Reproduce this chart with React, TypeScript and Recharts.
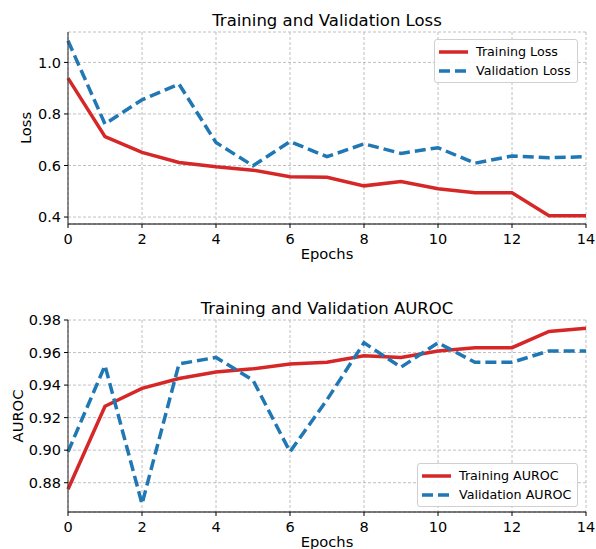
import { LineChart, Line, XAxis, YAxis, CartesianGrid, Legend } from 'recharts';

const epochs = [0, 1, 2, 3, 4, 5, 6, 7, 8, 9, 10, 11, 12, 13, 14];
const trainLoss = [0.939, 0.712, 0.651, 0.612, 0.595, 0.582, 0.556, 0.554, 0.521, 0.538, 0.51, 0.494, 0.494, 0.405, 0.405];
const valLoss = [1.084, 0.761, 0.855, 0.916, 0.689, 0.599, 0.693, 0.634, 0.684, 0.647, 0.669, 0.609, 0.637, 0.63, 0.634];
const trainAuroc = [0.876, 0.927, 0.938, 0.944, 0.948, 0.95, 0.953, 0.954, 0.958, 0.957, 0.961, 0.963, 0.963, 0.973, 0.975];
const valAuroc = [0.899, 0.952, 0.867, 0.953, 0.957, 0.943, 0.899, 0.931, 0.966, 0.951, 0.966, 0.954, 0.954, 0.961, 0.961];

const xTicks = [0, 2, 4, 6, 8, 10, 12, 14];
const lossTicks = [0.4, 0.6, 0.8, 1.0];
const aurocTicks = [0.88, 0.9, 0.92, 0.94, 0.96, 0.98];

const RED = '#d62728';
const BLUE = '#1f77b4';
const FONT = "'DejaVu Sans', sans-serif";

const lossData = epochs.map((e, i) => ({ epoch: e, train: trainLoss[i], val: valLoss[i] }));
const aurocData = epochs.map((e, i) => ({ epoch: e, train: trainAuroc[i], val: valAuroc[i] }));

// legend drawn inside the axes, like matplotlib's boxed legend
const BoxLegend = ({ payload }: any) => (
  <div
    style={{
      background: 'rgba(255,255,255,0.85)',
      border: '1px solid #d0d0d0',
      borderRadius: 3,
      padding: '2px 6px 2px 4px',
      fontFamily: FONT,
      fontSize: 12.7,
      color: '#000',
    }}
  >
    {payload.map((entry: any, i: number) => (
      <div key={i} style={{ display: 'flex', alignItems: 'center', height: 19 }}>
        <svg width={29} height={8} style={{ marginRight: 8 }}>
          <line
            x1={0}
            y1={4}
            x2={29}
            y2={4}
            stroke={entry.color}
            strokeWidth={3.5}
            strokeDasharray={i === 1 ? '11 5' : undefined}
          />
        </svg>
        <span>{entry.value}</span>
      </div>
    ))}
  </div>
);

const xLabel = ({ viewBox }: any) => (
  <text x={viewBox.x + viewBox.width / 2} y={viewBox.y + 35} textAnchor="middle" fontSize={14.7} fontFamily={FONT} fill="#000">
    Epochs
  </text>
);

const yLabel = (text: string, x: number) => ({ viewBox }: any) => {
  const cy = viewBox.y + viewBox.height / 2;
  return (
    <text x={x} y={cy} transform={`rotate(-90, ${x}, ${cy})`} textAnchor="middle" fontSize={14.7} fontFamily={FONT} fill="#000">
      {text}
    </text>
  );
};

const titleStyle = (top: number): React.CSSProperties => ({
  position: 'absolute',
  top,
  left: 68,
  width: 518,
  textAlign: 'center',
  fontFamily: FONT,
  fontSize: 16.5,
  lineHeight: 1,
  color: '#000',
});

const tickStyle = { fontSize: 14.5, fill: '#000', fontFamily: FONT };

export default function App() {
  return (
    <div style={{ position: 'absolute', left: 0, top: 0, width: 596, height: 549, background: '#fff', overflow: 'hidden' }}>
      <div style={titleStyle(13)}>Training and Validation Loss</div>
      <div style={{ position: 'absolute', left: 0, top: 0 }}>
        <LineChart width={596} height={280} data={lossData} margin={{ top: 32, right: 10, left: 0, bottom: 0 }}>
          <CartesianGrid stroke="#b0b0b0" strokeDasharray="3 2" strokeWidth={0.8} />
          <XAxis
            dataKey="epoch"
            type="number"
            domain={[0, 14]}
            ticks={xTicks}
            height={56}
            tick={tickStyle}
            tickSize={4}
            tickMargin={6}
            axisLine={{ stroke: '#000', strokeWidth: 1.2 }}
            tickLine={{ stroke: '#000' }}
            label={xLabel}
          />
          <YAxis
            type="number"
            domain={[0.373, 1.118]}
            ticks={lossTicks}
            allowDataOverflow
            width={68}
            tick={tickStyle}
            tickSize={4}
            tickMargin={3}
            tickFormatter={(v) => v.toFixed(1)}
            axisLine={{ stroke: '#444', strokeWidth: 1.2 }}
            tickLine={{ stroke: '#000' }}
            label={yLabel('Loss', 31)}
          />
          <Legend
            layout="vertical"
            align="center"
            verticalAlign="middle"
            wrapperStyle={{ left: 434, top: 39, width: 'auto' }}
            content={<BoxLegend />}
          />
          <Line dataKey="train" name="Training Loss" stroke={RED} strokeWidth={3.5} dot={false} isAnimationActive={false} />
          <Line dataKey="val" name="Validation Loss" stroke={BLUE} strokeWidth={3.5} strokeDasharray="11 5" dot={false} isAnimationActive={false} />
        </LineChart>
      </div>

      <div style={titleStyle(301)}>Training and Validation AUROC</div>
      <div style={{ position: 'absolute', left: 0, top: 280 }}>
        <LineChart width={596} height={269} data={aurocData} margin={{ top: 40, right: 10, left: 0, bottom: 0 }}>
          <CartesianGrid stroke="#b0b0b0" strokeDasharray="3 2" strokeWidth={0.8} />
          <XAxis
            dataKey="epoch"
            type="number"
            domain={[0, 14]}
            ticks={xTicks}
            height={37}
            tick={tickStyle}
            tickSize={4}
            tickMargin={6}
            axisLine={{ stroke: '#000', strokeWidth: 1.2 }}
            tickLine={{ stroke: '#000' }}
            label={xLabel}
          />
          <YAxis
            type="number"
            domain={[0.862, 0.98]}
            ticks={aurocTicks}
            allowDataOverflow
            width={68}
            tick={tickStyle}
            tickSize={4}
            tickMargin={3}
            tickFormatter={(v) => v.toFixed(2)}
            axisLine={{ stroke: '#444', strokeWidth: 1.2 }}
            tickLine={{ stroke: '#000' }}
            label={yLabel('AUROC', 22.5)}
          />
          <Legend
            layout="vertical"
            align="center"
            verticalAlign="middle"
            wrapperStyle={{ left: 417, top: 183, width: 'auto' }}
            content={<BoxLegend />}
          />
          <Line dataKey="train" name="Training AUROC" stroke={RED} strokeWidth={3.5} dot={false} isAnimationActive={false} />
          <Line dataKey="val" name="Validation AUROC" stroke={BLUE} strokeWidth={3.5} strokeDasharray="11 5" dot={false} isAnimationActive={false} />
        </LineChart>
      </div>
    </div>
  );
}
